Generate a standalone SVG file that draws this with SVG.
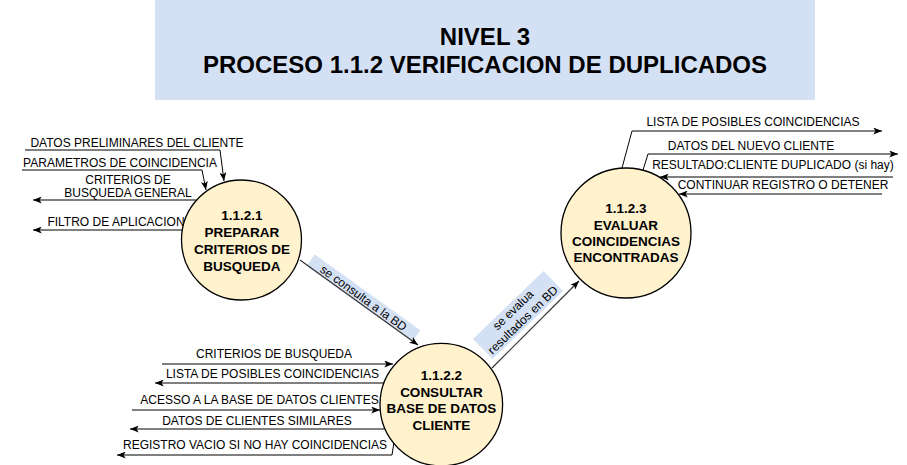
<svg xmlns="http://www.w3.org/2000/svg" width="907" height="465" viewBox="0 0 907 465">
<defs>
<marker id="arr" viewBox="0 0 10 8" refX="10" refY="4" markerWidth="9" markerHeight="7" markerUnits="userSpaceOnUse" orient="auto">
<path d="M0,0 L10,4 L0,8 L2.5,4 Z" fill="#000"/>
</marker>
<style>
.ln{fill:none;stroke:#000;stroke-width:1;marker-end:url(#arr)}
.dg{fill:none;stroke:#333;stroke-width:1.2;marker-end:url(#arr)}
.lb{font-family:"Liberation Sans",Arial,sans-serif;font-size:12px;fill:#000;text-anchor:middle}
.nd{fill:#FFF2CC;stroke:#000;stroke-width:1.3}
.nt{font-family:"Liberation Sans",Arial,sans-serif;font-size:13.5px;font-weight:bold;fill:#000;text-anchor:middle}
.bg{fill:#D4E1F5}
</style>
</defs>
<rect width="907" height="465" fill="#fff"/>
<g id="title">
<rect class="bg" x="155" y="0" width="660" height="100"/>
<text x="485" y="45" font-family="Liberation Sans,Arial,sans-serif" font-size="24" font-weight="bold" text-anchor="middle">NIVEL 3</text>
<text x="485" y="73" font-family="Liberation Sans,Arial,sans-serif" font-size="24" font-weight="bold" text-anchor="middle">PROCESO 1.1.2 VERIFICACION DE DUPLICADOS</text>
</g>
<g id="connectors">
<path class="ln" d="M25,150 H220 L224,181"/>
<path class="ln" d="M22,170 H202 L206,190"/>
<path class="ln" d="M196,200 H33"/>
<path class="ln" d="M182,230 H33"/>
<path class="ln" d="M162,364 H393"/>
<path class="ln" d="M384,383 H155"/>
<path class="ln" d="M132,410 H380"/>
<path class="ln" d="M386,429 H130"/>
<path class="ln" d="M394,442 L392,455 H117"/>
<path class="ln" d="M622,168 L632,131 H882"/>
<path class="ln" d="M643,170 L648,154 H898"/>
<path class="ln" d="M893,177 H660"/>
<path class="ln" d="M882,194 H679"/>
<g transform="translate(360,303) rotate(35.7)"><rect class="bg" x="-65" y="-13" width="130" height="14"/></g>
<path class="dg" d="M300,260 L418,345"/>
<g transform="translate(360,303) rotate(35.7)"><text class="lb" x="0" y="-2">se consulta a la BD</text></g>
<g transform="translate(518,315) rotate(-44)"><rect class="bg" x="-49" y="-14" width="98" height="28"/>
<text class="lb" x="0" y="-3">se evalua</text><text class="lb" x="0" y="11">resultados en BD</text></g>
<path class="dg" d="M492,368 L579,281"/>
<text class="lb" x="137" y="147">DATOS PRELIMINARES DEL CLIENTE</text>
<text class="lb" x="120" y="167">PARAMETROS DE COINCIDENCIA</text>
<text class="lb" x="128" y="183.5">CRITERIOS DE</text>
<text class="lb" x="128" y="197">BUSQUEDA GENERAL</text>
<text class="lb" x="116" y="225.5">FILTRO DE APLICACION</text>
<text class="lb" x="274" y="358">CRITERIOS DE BUSQUEDA</text>
<text class="lb" x="272.5" y="378">LISTA DE POSIBLES COINCIDENCIAS</text>
<text class="lb" x="259.5" y="404">ACESSO A LA BASE DE DATOS CLIENTES</text>
<text class="lb" x="257" y="425">DATOS DE CLIENTES SIMILARES</text>
<text class="lb" x="255" y="449">REGISTRO VACIO SI NO HAY COINCIDENCIAS</text>
<text class="lb" x="753" y="126">LISTA DE POSIBLES COINCIDENCIAS</text>
<text class="lb" x="751" y="150">DATOS DEL NUEVO CLIENTE</text>
<text class="lb" x="773" y="168.5">RESULTADO:CLIENTE DUPLICADO (si hay)</text>
<text class="lb" x="783" y="189">CONTINUAR REGISTRO O DETENER</text>
</g>
<g id="p1121">
<circle class="nd" cx="241.5" cy="240" r="60"/>
<text class="nt" x="242" y="220">1.1.2.1</text>
<text class="nt" x="242" y="237">PREPARAR</text>
<text class="nt" x="242" y="254">CRITERIOS DE</text>
<text class="nt" x="242" y="271">BUSQUEDA</text>
</g>
<g id="p1122">
<circle class="nd" cx="441.3" cy="404.6" r="61.3"/>
<text class="nt" x="441.5" y="380">1.1.2.2</text>
<text class="nt" x="441.5" y="396.5">CONSULTAR</text>
<text class="nt" x="441.5" y="413">BASE DE DATOS</text>
<text class="nt" x="441.5" y="430">CLIENTE</text>
</g>
<g id="p1123">
<circle class="nd" cx="626" cy="233" r="65"/>
<text class="nt" x="626" y="213">1.1.2.3</text>
<text class="nt" x="626" y="229.5">EVALUAR</text>
<text class="nt" x="626" y="246">COINCIDENCIAS</text>
<text class="nt" x="626" y="262">ENCONTRADAS</text>
</g>
</svg>
